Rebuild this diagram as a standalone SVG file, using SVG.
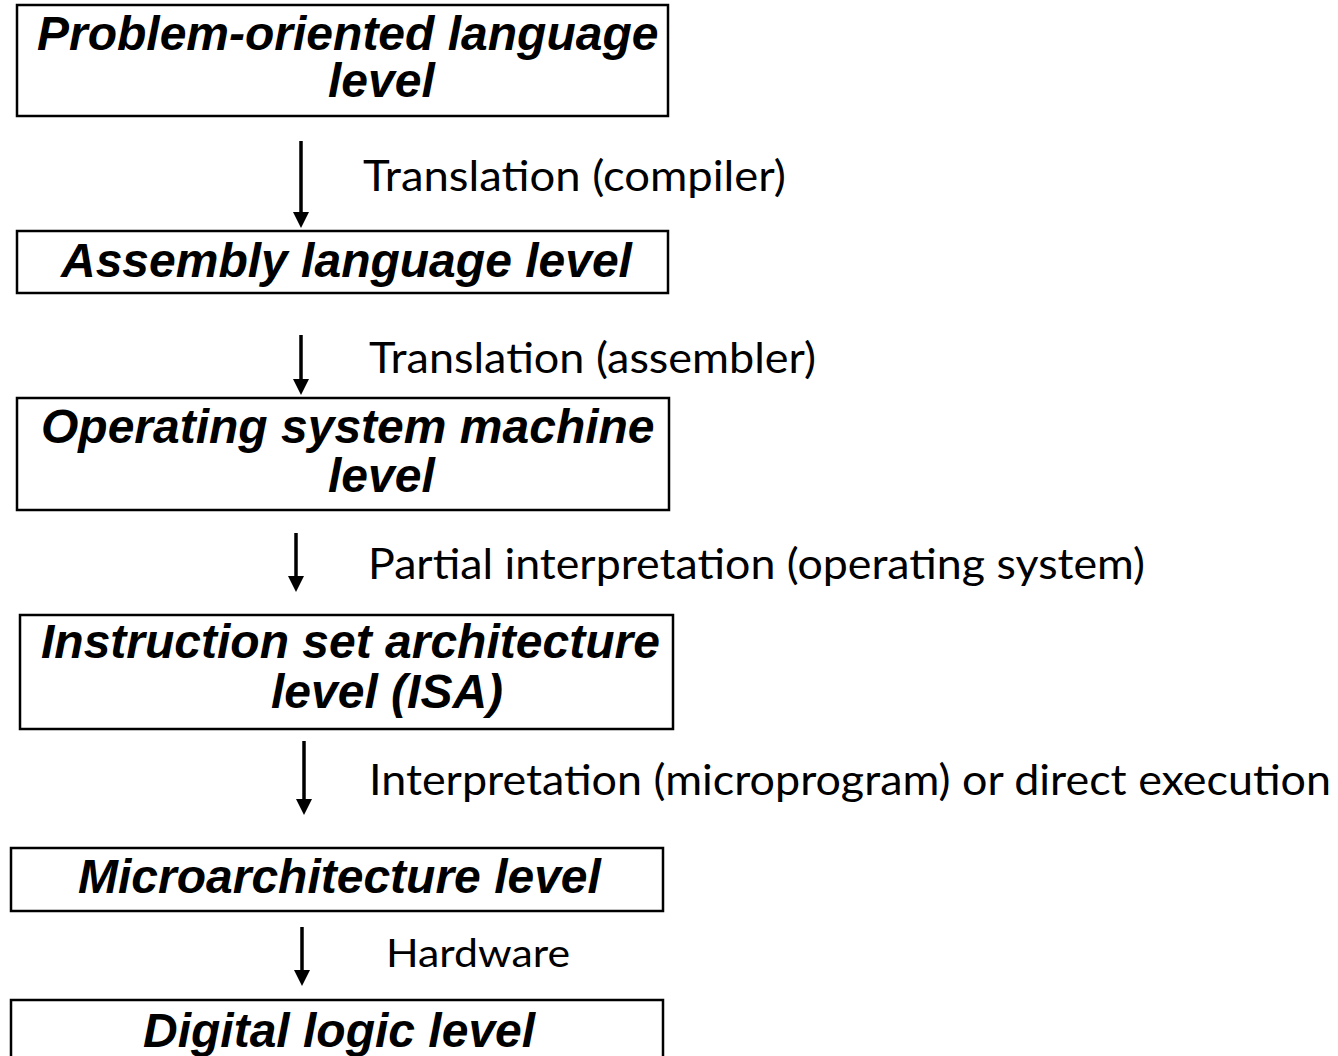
<svg xmlns="http://www.w3.org/2000/svg" width="1338" height="1056" viewBox="0 0 1338 1056">
  <style>
    .box { fill: #ffffff; stroke: #000000; stroke-width: 2.5; }
    .lvl { font-family: "Liberation Sans", Arial, sans-serif; font-weight: bold; font-style: italic; font-size: 48px; fill: #000000; }
    .lbl { font-family: Lato, "Open Sans", sans-serif; font-size: 42px; fill: #000000; }
    .lbl-s { font-family: Lato, "Open Sans", sans-serif; font-size: 38px; fill: #000000; }
    .arr { stroke: #000000; stroke-width: 3.5; fill: none; marker-end: url(#head); }
  </style>
  <defs>
    <marker id="head" markerUnits="userSpaceOnUse" viewBox="0 0 16 16" refX="8" refY="8" markerWidth="16" markerHeight="16" orient="auto">
      <path d="M0,0 L16,8 L0,16 Z" fill="#000000"/>
    </marker>
  </defs>
  <rect width="1338" height="1056" fill="#ffffff"/>

  <g id="connectors">
    <line class="arr" x1="301" y1="141" x2="301" y2="220"/>
    <line class="arr" x1="301" y1="335" x2="301" y2="387"/>
    <line class="arr" x1="296" y1="533" x2="296" y2="584"/>
    <line class="arr" x1="304" y1="741" x2="304" y2="807"/>
    <line class="arr" x1="302" y1="927" x2="302" y2="978"/>
    <text class="lbl" x="363" y="191" textLength="423" lengthAdjust="spacingAndGlyphs">Translation (compiler)</text>
    <text class="lbl" x="369" y="373" textLength="447" lengthAdjust="spacingAndGlyphs">Translation (assembler)</text>
    <text class="lbl" x="368" y="579" textLength="777" lengthAdjust="spacingAndGlyphs">Partial interpretation (operating system)</text>
    <text class="lbl" x="369" y="795" textLength="962" lengthAdjust="spacingAndGlyphs">Interpretation (microprogram) or direct execution</text>
    <text class="lbl-s" x="386" y="967" textLength="184" lengthAdjust="spacingAndGlyphs">Hardware</text>
  </g>

  <g id="problem-oriented">
    <rect class="box" x="17" y="5" width="651" height="111"/>
    <text class="lvl" x="37" y="50">Problem-oriented language</text>
    <text class="lvl" x="328" y="97">level</text>
  </g>

  <g id="assembly">
    <rect class="box" x="17" y="231" width="651" height="62"/>
    <text class="lvl" x="61" y="277">Assembly language level</text>
  </g>

  <g id="operating-system">
    <rect class="box" x="17" y="398" width="652" height="112"/>
    <text class="lvl" x="41" y="443">Operating system machine</text>
    <text class="lvl" x="328" y="492">level</text>
  </g>

  <g id="isa">
    <rect class="box" x="20" y="615" width="653" height="114"/>
    <text class="lvl" x="41" y="658">Instruction set architecture</text>
    <text class="lvl" x="271" y="708">level (ISA)</text>
  </g>

  <g id="microarchitecture">
    <rect class="box" x="11" y="848" width="652" height="63"/>
    <text class="lvl" x="78" y="893">Microarchitecture level</text>
  </g>

  <g id="digital-logic">
    <rect class="box" x="11" y="1000" width="652" height="70"/>
    <text class="lvl" x="143" y="1047">Digital logic level</text>
  </g>
</svg>
